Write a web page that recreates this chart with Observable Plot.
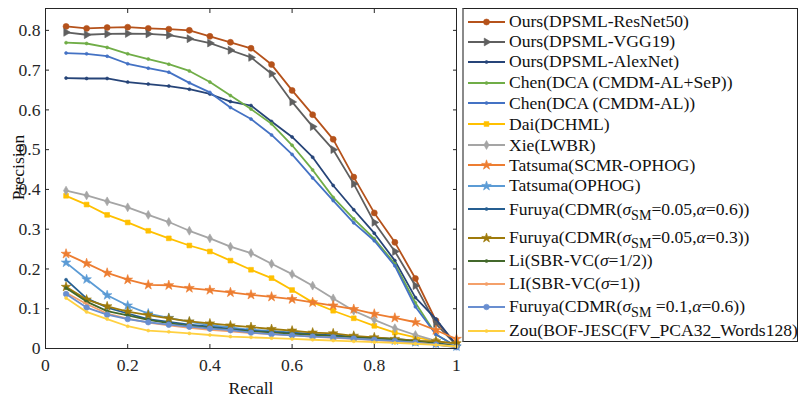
<!DOCTYPE html>
<html><head><meta charset="utf-8">
<script src="https://cdn.jsdelivr.net/npm/d3@7"></script>
<script src="https://cdn.jsdelivr.net/npm/@observablehq/plot@0.6"></script>
<style>
body{margin:0;background:#fff;}
#wrap{position:relative;width:798px;height:400px;font-family:"Liberation Serif","Times New Roman",serif;}
#chart{position:absolute;left:0;top:0;}
#legend{position:absolute;left:462px;top:8px;width:336px;height:334px;box-sizing:border-box;border:1px solid #222;border-left:2px solid #8a8a8a;background:#fff;}
.row{position:absolute;left:2px;height:20px;display:flex;align-items:center;font-size:17.6px;color:#111;white-space:nowrap;}
.row svg{flex:none;margin-right:3px;}
.row span{line-height:1;}
.row sub{font-size:0.8em;vertical-align:-0.33em;line-height:0;}
</style>
</head><body>
<div id="wrap"><div id="chart"></div><div id="legend"></div></div>
<script>
const recall = [0.05,0.10,0.15,0.20,0.25,0.30,0.35,0.40,0.45,0.50,0.55,0.60,0.65,0.70,0.75,0.80,0.85,0.90,0.95,1.00];
const resnet50    = [0.810,0.805,0.807,0.808,0.805,0.803,0.800,0.785,0.770,0.755,0.714,0.649,0.588,0.526,0.431,0.341,0.267,0.176,0.070,0.010];
const vgg19       = [0.795,0.789,0.791,0.792,0.791,0.788,0.779,0.768,0.750,0.732,0.691,0.620,0.558,0.500,0.414,0.317,0.244,0.158,0.062,0.008];
const alexnet     = [0.680,0.679,0.679,0.670,0.665,0.660,0.652,0.640,0.621,0.611,0.571,0.532,0.481,0.410,0.349,0.290,0.221,0.128,0.074,0.008];
const chenSeP     = [0.769,0.767,0.757,0.741,0.728,0.715,0.698,0.670,0.636,0.602,0.565,0.511,0.449,0.380,0.326,0.276,0.213,0.115,0.035,0.005];
const chenAL      = [0.743,0.741,0.735,0.716,0.705,0.695,0.668,0.644,0.606,0.577,0.537,0.488,0.429,0.372,0.316,0.271,0.208,0.105,0.035,0.005];
const daiDCHML    = [0.384,0.362,0.336,0.317,0.296,0.277,0.259,0.244,0.221,0.198,0.177,0.147,0.116,0.095,0.076,0.057,0.040,0.028,0.019,0.010];
const xieLWBR     = [0.397,0.385,0.370,0.355,0.336,0.318,0.296,0.277,0.256,0.240,0.213,0.187,0.158,0.126,0.095,0.072,0.051,0.034,0.019,0.008];
const tatsumaSCMR = [0.238,0.214,0.190,0.173,0.160,0.159,0.152,0.147,0.141,0.135,0.130,0.124,0.116,0.108,0.099,0.087,0.077,0.066,0.046,0.024];
const tatsumaOPHOG= [0.216,0.174,0.134,0.108,0.088,0.077,0.067,0.059,0.053,0.047,0.044,0.040,0.036,0.032,0.028,0.024,0.020,0.016,0.012,0.005];
const furuya0506  = [0.173,0.126,0.103,0.088,0.074,0.067,0.060,0.055,0.049,0.045,0.042,0.039,0.036,0.033,0.030,0.027,0.024,0.020,0.015,0.005];
const furuya0503  = [0.155,0.123,0.106,0.093,0.084,0.076,0.068,0.063,0.058,0.054,0.049,0.045,0.040,0.038,0.032,0.028,0.024,0.019,0.018,0.013];
const liHalf      = [0.152,0.118,0.094,0.083,0.072,0.064,0.057,0.052,0.047,0.043,0.040,0.037,0.034,0.031,0.028,0.025,0.022,0.018,0.012,0.005];
const liOne       = [0.140,0.112,0.088,0.075,0.065,0.058,0.052,0.047,0.043,0.039,0.036,0.033,0.030,0.027,0.024,0.021,0.018,0.015,0.010,0.004];
const furuya0106  = [0.137,0.103,0.085,0.074,0.066,0.060,0.055,0.050,0.046,0.040,0.036,0.033,0.030,0.028,0.025,0.022,0.019,0.015,0.010,0.003];
const zouBOF      = [0.127,0.092,0.074,0.056,0.045,0.042,0.038,0.034,0.030,0.028,0.026,0.024,0.022,0.020,0.018,0.016,0.014,0.012,0.009,0.005];

const seriesNames = [
  "Ours(DPSML-ResNet50)","Ours(DPSML-VGG19)","Ours(DPSML-AlexNet)",
  "Chen(DCA (CMDM-AL+SeP))","Chen(DCA (CMDM-AL))","Dai(DCHML)","Xie(LWBR)",
  "Tatsuma(SCMR-OPHOG)","Tatsuma(OPHOG)",
  "Furuya(CDMR(σSM=0.05,α=0.6))","Furuya(CDMR(σSM=0.05,α=0.3))",
  "Li(SBR-VC(σ=1/2))","LI(SBR-VC(σ=1))","Furuya(CDMR(σSM =0.1,α=0.6))",
  "Zou(BOF-JESC(FV_PCA32_Words128)"
];
const legendHTML = [
  "Ours(DPSML-ResNet50)","Ours(DPSML-VGG19)","Ours(DPSML-AlexNet)",
  "Chen(DCA (CMDM-AL+SeP))","Chen(DCA (CMDM-AL))","Dai(DCHML)","Xie(LWBR)",
  "Tatsuma(SCMR-OPHOG)","Tatsuma(OPHOG)",
  "Furuya(CDMR(<i>σ</i><sub>SM</sub>=0.05,<i>α</i>=0.6))",
  "Furuya(CDMR(<i>σ</i><sub>SM</sub>=0.05,<i>α</i>=0.3))",
  "Li(SBR-VC(<i>σ</i>=1/2))","LI(SBR-VC(<i>σ</i>=1))",
  "Furuya(CDMR(<i>σ</i><sub>SM</sub> =0.1,<i>α</i>=0.6))",
  "Zou(BOF-JESC(FV_PCA32_Words128)"
];
const seriesValues = [resnet50,vgg19,alexnet,chenSeP,chenAL,daiDCHML,xieLWBR,tatsumaSCMR,tatsumaOPHOG,furuya0506,furuya0503,liHalf,liOne,furuya0106,zouBOF];

// styles
const colors = ["#b5521b","#5f5f5f","#264478","#70ad47","#4472c4","#ffc000","#a5a5a5","#ed7d31","#5b9bd5","#255e91","#9e7a0a","#43682b","#f4a06a","#698ed0","#ffd040"];
const symbols = ["circle","triangle","circle","circle","circle","square","diamond","star","star","circle","star","circle","circle","circle","circle"];
const radii = [3.0,2.9,1.5,1.5,1.5,2.7,2.7,3.1,3.0,1.5,3.0,1.5,1.5,2.8,1.5];
const rotations = [0,90,0,0,0,0,0,0,0,0,0,0,0,0,0];

const rows = [];
seriesValues.forEach((vals, s) => vals.forEach((v, i) => rows.push({s, recall: recall[i], precision: v})));

const marks = [];
seriesValues.forEach((_, s) => {
  const d = rows.filter(r => r.s === s);
  marks.push(Plot.line(d, {x: "recall", y: "precision", stroke: colors[s], strokeWidth: 1.8}));
  marks.push(Plot.dot(d, {x: "recall", y: "precision", symbol: symbols[s], r: radii[s], fill: colors[s], stroke: colors[s], strokeWidth: 0.6, rotate: rotations[s]}));
});

const xTicks = [0,0.2,0.4,0.6,0.8,1];
const yTicks = [0,0.1,0.2,0.3,0.4,0.5,0.6,0.7,0.8];
const tickColor = "#262626";
const serif = '"Liberation Serif","Times New Roman",serif';

const chart = Plot.plot({
  width: 798, height: 400,
  marginLeft: 45, marginRight: 342, marginTop: 8, marginBottom: 52,
  style: {fontFamily: serif, fontSize: "17.6px", color: "#262626", background: "#fff"},
  x: {domain: [0,1]},
  y: {domain: [0,0.855]},
  marks: [
    ...marks,
    Plot.axisX(xTicks, {anchor: "bottom", tickSize: 0, tickPadding: 10, tickFormat: d => String(d), fill: tickColor, fontFamily: serif, fontSize: 17.6, label: null}),
    Plot.axisY(yTicks, {anchor: "left", tickSize: 0, tickPadding: 5, tickFormat: d => String(d), fill: tickColor, fontFamily: serif, fontSize: 17.6, label: null}),
    Plot.axisX(xTicks, {anchor: "bottom", tickSize: -4, tickFormat: () => "", stroke: tickColor, label: null}),
    Plot.axisX(xTicks, {anchor: "top", tickSize: -4, tickFormat: () => "", stroke: tickColor, label: null}),
    Plot.axisY(yTicks, {anchor: "left", tickSize: -4, tickFormat: () => "", stroke: tickColor, label: null}),
    Plot.axisY(yTicks, {anchor: "right", tickSize: -4, tickFormat: () => "", stroke: tickColor, label: null}),
    Plot.frame({stroke: tickColor, strokeWidth: 1}),
    Plot.text(["Recall"], {frameAnchor: "bottom", textAnchor: "middle", lineAnchor: "middle", dy: 40, fill: "#111", fontFamily: serif, fontSize: 17.6}),
    Plot.text(["Precision"], {frameAnchor: "left", textAnchor: "middle", lineAnchor: "middle", dx: -27, dy: -11, rotate: -90, fill: "#111", fontFamily: serif, fontSize: 17.6})
  ]
});
document.getElementById("chart").appendChild(chart);

// legend
const rowCenters = [12.7,32.7,53,73.7,94.3,115.3,136.3,156.3,177,200.3,228.7,252,274.7,297.7,322];
const legend = d3.select("#legend");
const symMap = {circle: d3.symbolCircle, triangle: d3.symbolTriangle, square: d3.symbolSquare, diamond: d3.symbolDiamond, star: d3.symbolStar};
seriesNames.forEach((name, s) => {
  const row = legend.append("div").attr("class", "row").style("top", (rowCenters[s] - 10) + "px");
  const svg = row.append("svg").attr("width", 40).attr("height", 20);
  svg.append("line").attr("x1", 2).attr("x2", 39).attr("y1", 10).attr("y2", 10).attr("stroke", colors[s]).attr("stroke-width", 1.8);
  svg.append("path").attr("d", d3.symbol(symMap[symbols[s]], Math.PI * radii[s] * radii[s])())
    .attr("transform", `translate(20.5,10) rotate(${rotations[s]})`)
    .attr("fill", colors[s]).attr("stroke", colors[s]).attr("stroke-width", 0.6);
  row.append("span").html(legendHTML[s]).attr("title", name);
});
</script>
</body></html>
